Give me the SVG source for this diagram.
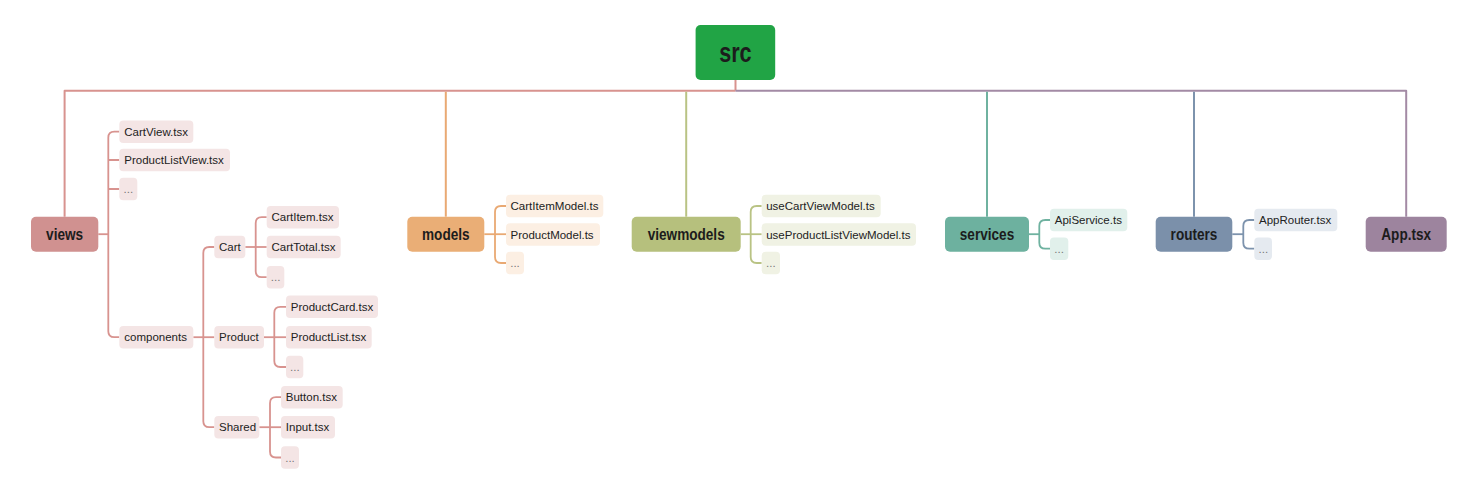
<svg xmlns="http://www.w3.org/2000/svg" width="1475" height="498" viewBox="0 0 1475 498">
<style>
  .main text { font-family: "Liberation Sans", Arial, sans-serif; font-weight: bold; font-size: 17px; fill: #1c1c1c; text-anchor: middle; }
  .leaf { font-family: "Liberation Sans", Arial, sans-serif; font-size: 11.5px; fill: #222; }
  .dots { font-family: "Liberation Sans", Arial, sans-serif; font-size: 11.5px; fill: #777; }
  .ln { fill: none; stroke-width: 2; stroke-linejoin: round; stroke-linecap: butt; }
  .tl { fill: none; stroke-width: 1.8; stroke-linejoin: round; }
  .pink { stroke: #D8938F; }
  .org { stroke: #E9A973; }
  .olv { stroke: #B9C384; }
  .teal { stroke: #6FB2A0; }
  .slate { stroke: #7D93AD; }
  .mauve { stroke: #A38AA5; }
  .bv { fill: #F4E5E5; }
  .bm { fill: #FCEFE3; }
  .bvm { fill: #F0F2E4; }
  .bs { fill: #E1F0EB; }
  .br { fill: #E5EAF0; }
</style>

<g id="connectors">
  <!-- main trunk -->
  <path class="ln pink" d="M735.5 80 V90.7"/>
  <path class="ln pink" d="M64.6 216.7 V90.7 H735.5"/>
  <path class="ln mauve" d="M735.5 90.7 H1406.2 V216.7"/>
  <path class="ln org" d="M445.8 91.7 V216.7"/>
  <path class="ln olv" d="M686.2 91.7 V216.7"/>
  <path class="ln teal" d="M987 91.7 V216.7"/>
  <path class="ln slate" d="M1194 91.7 V216.7"/>

  <!-- views tree -->
  <path class="tl pink" d="M98.3 234.2 H108.3"/>
  <path class="tl pink" d="M119.3 131.7 H114.3 Q108.3 131.7 108.3 137.7 V331.2 Q108.3 337.2 114.3 337.2 H119.3"/>
  <path class="tl pink" d="M108.3 160 H119.3 M108.3 189 H119.3"/>
  <!-- components tree -->
  <path class="tl pink" d="M193.3 337.2 H214.3"/>
  <path class="tl pink" d="M214.3 247 H209.3 Q203.3 247 203.3 253 V421.2 Q203.3 427.2 209.3 427.2 H214.3"/>
  <!-- Cart tree -->
  <path class="tl pink" d="M245.3 247 H266.7"/>
  <path class="tl pink" d="M266.7 217.2 H261.7 Q255.7 217.2 255.7 223.2 V271.2 Q255.7 277.2 261.7 277.2 H266.7"/>
  <!-- Product tree -->
  <path class="tl pink" d="M264 337.2 H286"/>
  <path class="tl pink" d="M286 306.8 H280.3 Q274.3 306.8 274.3 312.8 V361 Q274.3 367 280.3 367 H286"/>
  <!-- Shared tree -->
  <path class="tl pink" d="M259.3 427.2 H281"/>
  <path class="tl pink" d="M281 397.2 H276 Q270 397.2 270 403.2 V451.5 Q270 457.5 276 457.5 H281"/>

  <!-- models tree -->
  <path class="tl org" d="M484.3 234.2 H506"/>
  <path class="tl org" d="M506 206 H501 Q495 206 495 212 V257 Q495 263 501 263 H506"/>
  <!-- viewmodels tree -->
  <path class="tl olv" d="M740.7 234.2 H761.7"/>
  <path class="tl olv" d="M761.7 206 H756.7 Q750.7 206 750.7 212 V257 Q750.7 263 756.7 263 H761.7"/>
  <!-- services tree -->
  <path class="tl teal" d="M1029 234.2 H1039.3"/>
  <path class="tl teal" d="M1050 220 H1045.3 Q1039.3 220 1039.3 226 V242.7 Q1039.3 248.7 1045.3 248.7 H1050"/>
  <!-- routers tree -->
  <path class="tl slate" d="M1232.3 234.2 H1243.3"/>
  <path class="tl slate" d="M1254.3 220 H1249.3 Q1243.3 220 1243.3 226 V242.7 Q1243.3 248.7 1249.3 248.7 H1254.3"/>
</g>

<g id="src" class="main">
  <rect x="695.6" y="25" width="79.6" height="55" rx="5" fill="#21A445"/>
  <text transform="translate(735.4 61.5) scale(0.8 1)" style="font-size:27px">src</text>
</g>

<g id="views" class="main">
  <rect x="31" y="216.7" width="67.3" height="35" rx="5" fill="#D09190"/>
  <text transform="translate(64.6 240) scale(0.8 1)">views</text>
</g>
<g id="models" class="main">
  <rect x="407.3" y="216.7" width="77" height="35" rx="5" fill="#EAAE76"/>
  <text transform="translate(445.8 240) scale(0.8 1)">models</text>
</g>
<g id="viewmodels" class="main">
  <rect x="631.7" y="216.7" width="109" height="35" rx="5" fill="#B6C07D"/>
  <text transform="translate(686.2 240) scale(0.8 1)">viewmodels</text>
</g>
<g id="services" class="main">
  <rect x="945" y="216.7" width="84" height="35" rx="5" fill="#6DB19F"/>
  <text transform="translate(987 240) scale(0.8 1)">services</text>
</g>
<g id="routers" class="main">
  <rect x="1155.7" y="216.7" width="76.6" height="35" rx="5" fill="#7B90AA"/>
  <text transform="translate(1194 240) scale(0.8 1)">routers</text>
</g>
<g id="app-tsx" class="main">
  <rect x="1365.7" y="216.7" width="81" height="35" rx="5" fill="#9D849E"/>
  <text transform="translate(1406.2 240) scale(0.8 1)">App.tsx</text>
</g>

<!-- views children -->
<g id="cartview-tsx"><rect class="bv" x="119.3" y="120.4" width="74" height="22.5" rx="4"/><text class="leaf" x="124.3" y="135.8">CartView.tsx</text></g>
<g id="productlistview-tsx"><rect class="bv" x="119.3" y="148.7" width="110.7" height="22.5" rx="4"/><text class="leaf" x="124.3" y="164.1">ProductListView.tsx</text></g>
<g id="views-more"><rect class="bv" x="119.3" y="177.7" width="18" height="22.5" rx="4"/><text class="dots" x="123.5" y="193.1">...</text></g>
<g id="components"><rect class="bv" x="119.3" y="325.9" width="74" height="22.5" rx="4"/><text class="leaf" x="124.3" y="341.3">components</text></g>

<g id="cart"><rect class="bv" x="214.3" y="235.7" width="31" height="22.5" rx="4"/><text class="leaf" x="219" y="251.1">Cart</text></g>
<g id="product"><rect class="bv" x="214.3" y="325.9" width="49.7" height="22.5" rx="4"/><text class="leaf" x="219" y="341.3">Product</text></g>
<g id="shared"><rect class="bv" x="214.3" y="415.9" width="45" height="22.5" rx="4"/><text class="leaf" x="219" y="431.3">Shared</text></g>

<g id="cartitem-tsx"><rect class="bv" x="266.7" y="205.9" width="72.3" height="22.5" rx="4"/><text class="leaf" x="271.5" y="221.3">CartItem.tsx</text></g>
<g id="carttotal-tsx"><rect class="bv" x="266.7" y="235.7" width="74" height="22.5" rx="4"/><text class="leaf" x="271.5" y="251.1">CartTotal.tsx</text></g>
<g id="cart-more"><rect class="bv" x="266.7" y="265.9" width="17.6" height="22.5" rx="4"/><text class="dots" x="270.8" y="281.3">...</text></g>

<g id="productcard-tsx"><rect class="bv" x="286" y="295.5" width="92" height="22.5" rx="4"/><text class="leaf" x="290.8" y="310.9">ProductCard.tsx</text></g>
<g id="productlist-tsx"><rect class="bv" x="286" y="325.9" width="85.7" height="22.5" rx="4"/><text class="leaf" x="290.8" y="341.3">ProductList.tsx</text></g>
<g id="product-more"><rect class="bv" x="286" y="355.7" width="17.3" height="22.5" rx="4"/><text class="dots" x="290" y="371.1">...</text></g>

<g id="button-tsx"><rect class="bv" x="281" y="385.9" width="61.7" height="22.5" rx="4"/><text class="leaf" x="285.8" y="401.3">Button.tsx</text></g>
<g id="input-tsx"><rect class="bv" x="281" y="415.9" width="54" height="22.5" rx="4"/><text class="leaf" x="285.8" y="431.3">Input.tsx</text></g>
<g id="shared-more"><rect class="bv" x="281" y="446.2" width="18" height="22.5" rx="4"/><text class="dots" x="285.2" y="461.6">...</text></g>

<!-- models children -->
<g id="cartitemmodel-ts"><rect class="bm" x="506" y="194.8" width="97.3" height="22.5" rx="4"/><text class="leaf" x="510.5" y="210.2" textLength="88" lengthAdjust="spacingAndGlyphs">CartItemModel.ts</text></g>
<g id="productmodel-ts"><rect class="bm" x="506" y="223.3" width="94" height="22.5" rx="4"/><text class="leaf" x="510.5" y="238.7">ProductModel.ts</text></g>
<g id="models-more"><rect class="bm" x="506" y="251.8" width="18" height="22.5" rx="4"/><text class="dots" x="510.2" y="267.2">...</text></g>

<!-- viewmodels children -->
<g id="usecartviewmodel-ts"><rect class="bvm" x="761.7" y="194.8" width="119" height="22.5" rx="4"/><text class="leaf" x="766.2" y="210.2">useCartViewModel.ts</text></g>
<g id="useproductlistviewmodel-ts"><rect class="bvm" x="761.7" y="223.3" width="154.3" height="22.5" rx="4"/><text class="leaf" x="766.2" y="238.7">useProductListViewModel.ts</text></g>
<g id="viewmodels-more"><rect class="bvm" x="761.7" y="251.8" width="18.3" height="22.5" rx="4"/><text class="dots" x="766" y="267.2">...</text></g>

<!-- services children -->
<g id="apiservice-ts"><rect class="bs" x="1050" y="208.8" width="77.3" height="22.5" rx="4"/><text class="leaf" x="1054.8" y="224.2">ApiService.ts</text></g>
<g id="services-more"><rect class="bs" x="1050" y="237.5" width="18.3" height="22.5" rx="4"/><text class="dots" x="1054.3" y="252.9">...</text></g>

<!-- routers children -->
<g id="approuter-tsx"><rect class="br" x="1254.3" y="208.8" width="83" height="22.5" rx="4"/><text class="leaf" x="1259" y="224.2">AppRouter.tsx</text></g>
<g id="routers-more"><rect class="br" x="1254.3" y="237.5" width="17.7" height="22.5" rx="4"/><text class="dots" x="1258.5" y="252.9">...</text></g>
</svg>
